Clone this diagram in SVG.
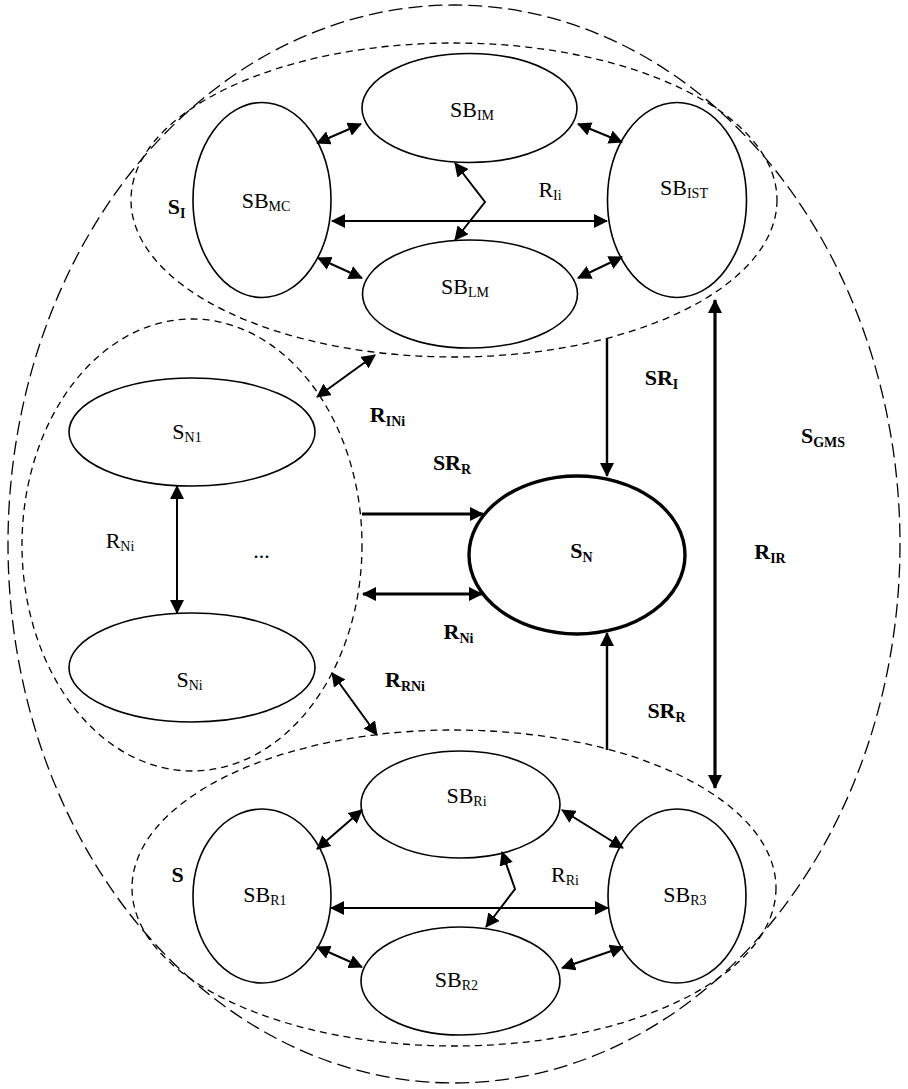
<svg xmlns="http://www.w3.org/2000/svg" width="908" height="1089" viewBox="0 0 908 1089">
<style>
text{font-family:"Liberation Serif","Times New Roman",serif;font-size:22px;fill:#000;text-anchor:middle}
.b{font-weight:bold}
.sub{font-size:14px}
.node{fill:none;stroke:#000;stroke-width:1.6}
.thick{fill:none;stroke:#000;stroke-width:3.4}
.outer{fill:none;stroke:#000;stroke-width:1.3;stroke-dasharray:14 6}
.inner{fill:none;stroke:#000;stroke-width:1.3;stroke-dasharray:7 5}
.e{fill:none;stroke:#000;stroke-width:2;marker-end:url(#ah)}
.d{marker-start:url(#ah)}
.w{stroke-width:3.2}
.m{stroke-width:2.4}
</style>
<defs>
<marker id="ah" viewBox="0 0 14 14" refX="13" refY="7" markerWidth="14" markerHeight="14" markerUnits="userSpaceOnUse" orient="auto-start-reverse">
<path d="M0,0 L14,7 L0,14 z" fill="#000"/>
</marker>
</defs>
<rect width="908" height="1089" fill="#fff"/>

<g id="S_GMS">
<ellipse class="outer" cx="454" cy="544" rx="446" ry="539"/>
<text class="b" x="823" y="443">S<tspan class="sub" dy="4">GMS</tspan></text>
</g>
<g id="S_I">
<ellipse class="inner" cx="454" cy="200" rx="323" ry="157"/>
<text class="b" x="176.5" y="214">S<tspan class="sub" dy="4">I</tspan></text>
</g>
<g id="S_NGroup">
<ellipse class="inner" cx="192" cy="545" rx="170" ry="226"/>
</g>
<g id="S_R">
<ellipse class="inner" cx="454" cy="888" rx="322" ry="158"/>
<text class="b" x="177.5" y="882">S</text>
</g>

<g id="SB_IM">
<ellipse class="node" cx="469.5" cy="108" rx="107.5" ry="54.5"/>
<text x="472" y="117">SB<tspan class="sub" dy="3">IM</tspan></text>
</g>
<g id="SB_MC">
<ellipse class="node" cx="262" cy="200" rx="69" ry="97.5"/>
<text x="266" y="208">SB<tspan class="sub" dy="3">MC</tspan></text>
</g>
<g id="SB_IST">
<ellipse class="node" cx="677" cy="200" rx="69.5" ry="97.5"/>
<text x="684" y="195">SB<tspan class="sub" dy="3">IST</tspan></text>
</g>
<g id="SB_LM">
<ellipse class="node" cx="470" cy="294" rx="107.5" ry="54"/>
<text x="465" y="294">SB<tspan class="sub" dy="3">LM</tspan></text>
</g>

<g id="S_N1">
<ellipse class="node" cx="192" cy="432" rx="123" ry="54"/>
<text x="187" y="439">S<tspan class="sub" dy="3">N1</tspan></text>
</g>
<g id="S_Ni">
<ellipse class="node" cx="192" cy="667.5" rx="123" ry="54.5"/>
<text x="189.5" y="687">S<tspan class="sub" dy="3">Ni</tspan></text>
</g>
<g id="ellipsis">
<text x="261.5" y="558">...</text>
</g>
<g id="S_N">
<ellipse class="thick" cx="577" cy="555" rx="108" ry="79"/>
<text class="b" x="581.5" y="558">S<tspan class="sub" dy="4">N</tspan></text>
</g>

<g id="SB_Ri">
<ellipse class="node" cx="460.5" cy="804.5" rx="99.5" ry="53.5"/>
<text x="466.5" y="803">SB<tspan class="sub" dy="3">Ri</tspan></text>
</g>
<g id="SB_R1">
<ellipse class="node" cx="262" cy="896" rx="69" ry="87"/>
<text x="265" y="902">SB<tspan class="sub" dy="3">R1</tspan></text>
</g>
<g id="SB_R3">
<ellipse class="node" cx="677" cy="896" rx="69" ry="87"/>
<text x="685" y="902">SB<tspan class="sub" dy="3">R3</tspan></text>
</g>
<g id="SB_R2">
<ellipse class="node" cx="460.5" cy="981" rx="99.5" ry="54"/>
<text x="456.5" y="987">SB<tspan class="sub" dy="3">R2</tspan></text>
</g>

<g id="connectors">
<line class="e d" x1="317" y1="143" x2="361" y2="124"/>
<line class="e d" x1="318" y1="258" x2="362" y2="278"/>
<line class="e d" x1="578" y1="124" x2="622" y2="142"/>
<line class="e d" x1="578" y1="278" x2="622" y2="257"/>
<line class="e d" x1="332" y1="221" x2="607" y2="221"/>
<polyline class="e d" points="455,163 485,202 455,240"/>

<line class="e d" x1="317" y1="397" x2="375" y2="355"/>
<line class="e w" x1="362" y1="514" x2="483" y2="514"/>
<line class="e d w" x1="363" y1="594" x2="482" y2="594"/>
<line class="e d" x1="332" y1="673" x2="377" y2="735"/>
<line class="e d" x1="177" y1="486" x2="177" y2="613"/>
<line class="e m" x1="607" y1="339" x2="607" y2="476"/>
<line class="e m" x1="607" y1="750" x2="607" y2="633"/>
<line class="e d w" x1="715" y1="300" x2="715" y2="788"/>

<line class="e d" x1="317" y1="849" x2="362" y2="810"/>
<line class="e d" x1="317" y1="947" x2="362" y2="967"/>
<line class="e d" x1="562" y1="810" x2="623" y2="848"/>
<line class="e d" x1="562" y1="968" x2="623" y2="947"/>
<line class="e d" x1="331" y1="908" x2="608" y2="908"/>
<polyline class="e d" points="502,852 515,889 486,927"/>
</g>

<g id="connector-labels">
<text x="550" y="197">R<tspan class="sub" dy="3">Ii</tspan></text>
<text class="b" x="387.5" y="422">R<tspan class="sub" dy="4">INi</tspan></text>
<text class="b" x="661.5" y="385">SR<tspan class="sub" dy="4">I</tspan></text>
<text class="b" x="452" y="470">SR<tspan class="sub" dy="4">R</tspan></text>
<text x="120" y="548">R<tspan class="sub" dy="3">Ni</tspan></text>
<text class="b" x="458.5" y="639">R<tspan class="sub" dy="4">Ni</tspan></text>
<text class="b" x="405" y="687">R<tspan class="sub" dy="4">RNi</tspan></text>
<text class="b" x="666.5" y="718">SR<tspan class="sub" dy="4">R</tspan></text>
<text class="b" x="770" y="559">R<tspan class="sub" dy="4">IR</tspan></text>
<text x="565" y="882">R<tspan class="sub" dy="3">Ri</tspan></text>
</g>
</svg>
